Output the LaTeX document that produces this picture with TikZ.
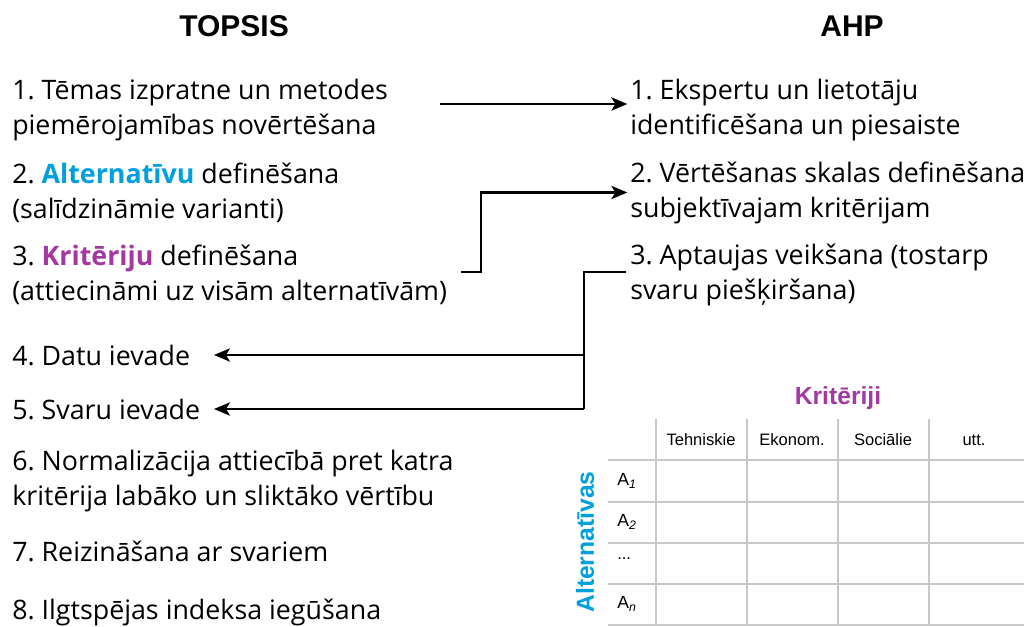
\documentclass[tikz,border=0pt]{standalone}
\usepackage{fontspec}
\setmainfont{Open Sans}
\newfontfamily\arialfont{Liberation Sans}
\usepackage{tikz}
\usetikzlibrary{arrows.meta,positioning}
\definecolor{AltBlue}{RGB}{0,160,223}
\definecolor{KritPurple}{RGB}{163,56,160}
\definecolor{GridGray}{RGB}{200,200,200}
\frenchspacing

\begin{document}
\begin{tikzpicture}[x=0.75pt,y=-0.75pt]
			\tikzstyle{Step}	= [anchor=west, inner sep=0pt, align=left, font=\fontsize{20.1}{26.25}\selectfont]
			\tikzstyle{Head}	= [inner sep=0pt, font=\arialfont\bfseries\fontsize{22.5}{26}\selectfont]
			\tikzstyle{Link}	= [line width=1.6pt, -{Stealth[length=12pt,width=10pt,inset=3pt]}]
			\tikzstyle{Wire}	= [line width=1.6pt]
			\tikzstyle{Grid}	= [GridGray, line width=1.5pt]
			\tikzstyle{Cell}	= [inner sep=0pt, font=\arialfont\fontsize{12.4}{14}\selectfont]
			\tikzstyle{Axis}	= [inner sep=0pt, font=\arialfont\bfseries\fontsize{18.5}{22}\selectfont]
			
			\clip (0,0) rectangle (1024,626);
			
			\node (topsis) at (234,26) [Head] {TOPSIS};
			\node (ahp) at (852,26) [Head] {AHP};
			
			\node (t1) at (12,110) [Step] {1. Tēmas izpratne un metodes\\piemērojamības novērtēšana};
			\node (t2) at (12,192.5) [Step] {2. {\bfseries\color{AltBlue}Alternatīvu} definēšana\\(salīdzināmie varianti)};
			\node (t3) at (12,275) [Step] {3. {\bfseries\color{KritPurple}Kritēriju} definēšana\\(attiecināmi uz visām alternatīvām)};
			\node (t4) at (12,355) [Step] {4. Datu ievade};
			\node (t5) at (12,409) [Step] {5. Svaru ievade};
			\node (t6) at (12,481.5) [Step] {6. Normalizācija attiecībā pret katra\\kritērija labāko un sliktāko vērtību};
			\node (t7) at (12,551) [Step] {7. Reizināšana ar svariem};
			\node (t8) at (12,612) [Step] {8. Ilgtspējas indeksa iegūšana};
			
			\node (a1) at (630,110) [Step] {1. Ekspertu un lietotāju\\identificēšana un piesaiste};
			\node (a2) at (630,192.5) [Step] {2. Vērtēšanas skalas definēšana\\subjektīvajam kritērijam};
			\node (a3) at (630,275) [Step] {3. Aptaujas veikšana (tostarp\\svaru piešķiršana)};
			
			\coordinate (s1) at (440,104);
			\coordinate (s2) at (461,272);
			\coordinate (k2) at (481,0);
			\coordinate (k3) at (584,272);
			\coordinate (tip) at (214,0);
			\draw [Link] (s1) -- ([xshift=-2pt]s1 -| a1.west);
			\draw [Link] (s2) -| (k2 |- a2.west) -- ([xshift=-2pt]a2.west);
			\draw [Wire] ([xshift=-3pt]a3.west |- k3) -- (k3) -- (k3 |- t5.east);
			\draw [Link] (k3 |- t4.east) -- (tip |- t4.east);
			\draw [Link] (k3 |- t5.east) -- (tip |- t5.east);
			
			\node (krit) at (838,398) [Axis][text=KritPurple] {Kritēriji};
			\node (alt) at (585,542) [Axis][text=AltBlue, rotate=90] {Alternatīvas};
			\foreach \x in {656, 747, 838, 929}
				\draw [-] (\x,419) to (\x,626) [Grid];
			\foreach \y in {460, 502, 543, 584, 625}
				\draw [-] (608,\y) to (1024,\y) [Grid];
			\foreach \x/\t in {701/Tehniskie, 792/Ekonom., 883/Sociālie, 974/utt.}
				\node (h\x) at (\x,440) [Cell] {\t};
			\foreach \y/\t in {481/1, 522/2, 604/n}
				\node (r\t) at (617,\y) [Cell][anchor=west, font=\arialfont\fontsize{13.2}{15}\selectfont] {A\textsubscript{\itshape\t}};
			\node (rdots) at (617,559) [Cell][anchor=west] {...};
\end{tikzpicture}
\end{document}
